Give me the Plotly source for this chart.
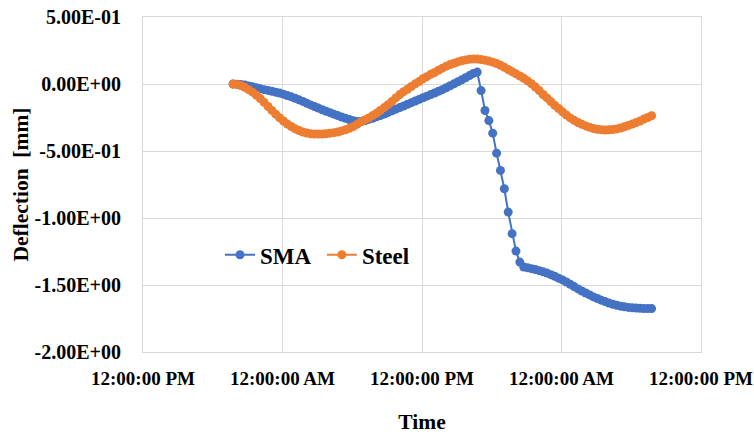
import pandas as pd
import plotly.graph_objects as go

# 20-minute readings starting at 19:45 on day 0
start_time = "2021-07-01 19:45"
step = "20min"

sma = [
    0.000, -0.001, -0.003, -0.008, -0.014, -0.021, -0.028, -0.036, -0.042, -0.048,
    -0.054, -0.061, -0.068, -0.076, -0.086, -0.096, -0.106, -0.118, -0.130, -0.143,
    -0.156, -0.168, -0.180, -0.192, -0.203, -0.214, -0.225, -0.236, -0.246, -0.256,
    -0.265, -0.274, -0.280, -0.280, -0.275, -0.264, -0.256, -0.245, -0.236, -0.224,
    -0.212, -0.200, -0.188, -0.176, -0.164, -0.152, -0.139, -0.127, -0.115, -0.103,
    -0.091, -0.079, -0.067, -0.055, -0.042, -0.028, -0.013, 0.001, 0.016, 0.031,
    0.047, 0.063, 0.079, 0.089, -0.049, -0.198, -0.273, -0.367, -0.516, -0.645,
    -0.782, -0.956, -1.117, -1.247, -1.329, -1.366, -1.372, -1.378, -1.385, -1.393,
    -1.402, -1.411, -1.423, -1.435, -1.449, -1.462, -1.478, -1.495, -1.512, -1.529,
    -1.545, -1.560, -1.574, -1.589, -1.601, -1.613, -1.624, -1.635, -1.644, -1.651,
    -1.658, -1.663, -1.667, -1.670, -1.672, -1.674, -1.675, -1.675, -1.676,
]

steel = [
    0.000, -0.003, -0.012, -0.025, -0.042, -0.061, -0.083, -0.109, -0.137, -0.167,
    -0.197, -0.225, -0.252, -0.276, -0.299, -0.317, -0.334, -0.347, -0.358, -0.366,
    -0.371, -0.373, -0.374, -0.373, -0.371, -0.367, -0.363, -0.358, -0.350, -0.342,
    -0.331, -0.318, -0.301, -0.283, -0.268, -0.253, -0.236, -0.218, -0.198, -0.176,
    -0.154, -0.130, -0.104, -0.079, -0.057, -0.039, -0.019, 0.001, 0.018, 0.039,
    0.055, 0.072, 0.086, 0.103, 0.118, 0.133, 0.145, 0.155, 0.165, 0.173,
    0.180, 0.184, 0.187, 0.186, 0.183, 0.178, 0.171, 0.163, 0.153, 0.140,
    0.125, 0.108, 0.092, 0.076, 0.060, 0.042, 0.023, 0.002, -0.022, -0.049,
    -0.078, -0.104, -0.132, -0.159, -0.183, -0.208, -0.231, -0.253, -0.271, -0.287,
    -0.301, -0.313, -0.323, -0.332, -0.338, -0.341, -0.343, -0.342, -0.340, -0.335,
    -0.328, -0.319, -0.309, -0.299, -0.288, -0.276, -0.262, -0.250, -0.237,
]

x_tick_vals = ["2021-07-01 12:00", "2021-07-02 00:00", "2021-07-02 12:00",
               "2021-07-03 00:00", "2021-07-03 12:00"]
x_tick_text = ["12:00:00 PM", "12:00:00 AM", "12:00:00 PM", "12:00:00 AM", "12:00:00 PM"]

y_tick_vals = [-2.0, -1.5, -1.0, -0.5, 0.0, 0.5]
y_tick_text = ["-2.00E+00", "-1.50E+00", "-1.00E+00", "-5.00E-01", "0.00E+00", "5.00E-01"]

times = pd.date_range(start_time, periods=len(sma), freq=step)

FONT = "Liberation Serif, Times New Roman, serif"
TICK_FS = 20
XTICK_FS = 19
TITLE_FS = 21.5
LEG_FS = 23
BLUE = "#4472C4"
ORANGE = "#ED7D31"
GRID = "#D9D9D9"

fig = go.Figure()
fig.add_trace(go.Scatter(x=times, y=sma, name="<b>SMA</b>\u00a0", mode="lines+markers",
                         line=dict(color=BLUE, width=2),
                         marker=dict(color=BLUE, size=9)))
fig.add_trace(go.Scatter(x=times, y=steel, name="<b>Steel</b>", mode="lines+markers",
                         line=dict(color=ORANGE, width=2),
                         marker=dict(color=ORANGE, size=9)))

fig.update_layout(
    width=754, height=438,
    margin=dict(l=143, r=53, t=17, b=86),
    paper_bgcolor="white", plot_bgcolor="white",
    font=dict(family=FONT, size=TICK_FS, color="black"),
    showlegend=True,
    legend=dict(orientation="h", x=0.138, y=0.29, xanchor="left", yanchor="middle",
                bgcolor="rgba(0,0,0,0)", font=dict(family=FONT, size=LEG_FS, color="black"),
                itemwidth=30, tracegroupgap=0),
    xaxis=dict(
        type="date", automargin=False,
        range=[x_tick_vals[0], x_tick_vals[-1]],
        tickmode="array", tickvals=x_tick_vals, ticktext=["<b>%s</b>" % t for t in x_tick_text],
        tickfont=dict(family=FONT, size=XTICK_FS, color="black"),
        ticklabeloverflow="allow",
        showgrid=True, gridcolor=GRID, gridwidth=1,
        showline=True, linecolor=GRID, linewidth=1, mirror=True,
        zeroline=False, ticks="", ticklabelstandoff=9,
        title=dict(text="<b>Time</b>", standoff=26, font=dict(family=FONT, size=TITLE_FS)),
    ),
    yaxis=dict(
        automargin=False,
        range=[-2.0, 0.5],
        tickmode="array", tickvals=y_tick_vals, ticktext=["<b>%s</b>" % t for t in y_tick_text],
        tickfont=dict(family=FONT, size=TICK_FS, color="black"),
        showgrid=True, gridcolor=GRID, gridwidth=1,
        showline=True, linecolor=GRID, linewidth=1, mirror=True,
        zeroline=False, ticks="", ticklabelstandoff=17,
        title=dict(text="<b>Deflection\u00a0 [mm]</b>", standoff=0, font=dict(family=FONT, size=TITLE_FS)),
    ),
)

fig.write_html("out.html")
